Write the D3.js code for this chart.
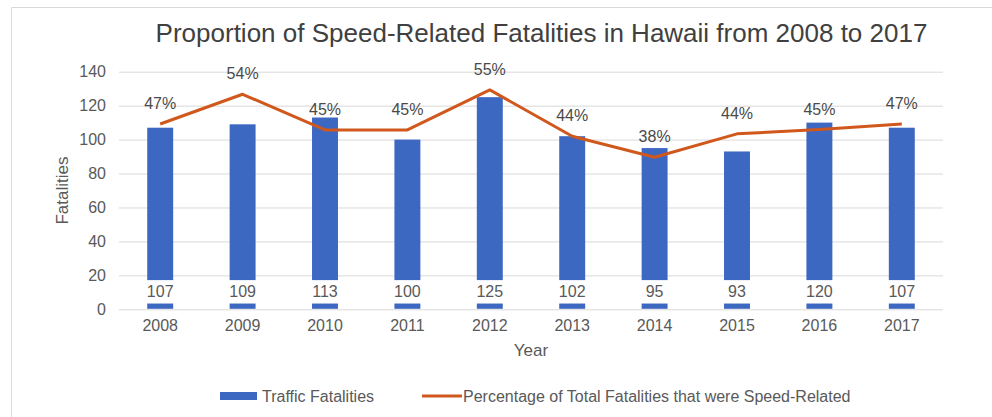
<!DOCTYPE html>
<html>
<head>
<meta charset="utf-8">
<script src="https://cdn.jsdelivr.net/npm/d3@7"></script>
<style>
  html, body { margin: 0; padding: 0; background: #ffffff; }
  svg { display: block; font-family: "Liberation Sans", Arial, sans-serif; }
</style>
</head>
<body>
<svg id="chart" width="992" height="417"></svg>
<script>
const years = ["2008","2009","2010","2011","2012","2013","2014","2015","2016","2017"];
// bar heights as drawn in the picture
const fatalities = [107, 109, 113, 100, 125, 102, 95, 93, 110, 107];
// value labels as printed in the picture
const fatalityLabels = ["107", "109", "113", "100", "125", "102", "95", "93", "120", "107"];
const speedShare = [0.468, 0.543, 0.453, 0.453, 0.554, 0.437, 0.384, 0.443, 0.454, 0.468];
const yTicks = [0, 20, 40, 60, 80, 100, 120, 140];
const titleText = "Proportion of Speed-Related Fatalities in Hawaii from 2008 to 2017";
const seriesNames = ["Traffic Fatalities", "Percentage of Total Fatalities that were Speed-Related"];

const W = 992, H = 417;
const plot = { left: 119, right: 943, top: 71.7, bottom: 309.3 };
const barColor = "#3d68c2";
const lineColor = "#d0581c";
const gridColor = "#d9d9d9";
const tickColor = "#595959";

const svg = d3.select("#chart");

// chart border (top and left visible)
svg.append("line").attr("x1", 11.5).attr("x2", W).attr("y1", 7.5).attr("y2", 7.5)
  .attr("stroke", "#d9d9d9").attr("stroke-width", 1);
svg.append("line").attr("x1", 11.5).attr("x2", 11.5).attr("y1", 7.5).attr("y2", H)
  .attr("stroke", "#d9d9d9").attr("stroke-width", 1);

const x = d3.scaleBand().domain(years).range([plot.left, plot.right])
  .paddingInner(0.685).paddingOuter(0.3425);
const y = d3.scaleLinear().domain([0, 140]).range([plot.bottom, plot.top]);
const y2 = d3.scaleLinear().domain([0, 0.6]).range([plot.bottom, plot.top]);

// gridlines + y tick labels
const yAxis = d3.axisLeft(y).tickValues(yTicks).tickSize(-(plot.right - plot.left)).tickPadding(13);
const gy = svg.append("g").attr("transform", `translate(${plot.left},0)`).call(yAxis);
gy.select(".domain").remove();
gy.selectAll(".tick line").attr("stroke", gridColor).attr("stroke-width", 1);
gy.selectAll(".tick text").attr("fill", tickColor).attr("font-size", 16)
  .attr("font-family", "Liberation Sans, Arial, sans-serif");

// x tick labels
const xAxis = d3.axisBottom(x).tickSize(0).tickPadding(10);
const gx = svg.append("g").attr("transform", `translate(0,${plot.bottom})`).call(xAxis);
gx.select(".domain").remove();
gx.selectAll(".tick text").attr("fill", tickColor).attr("font-size", 16)
  .attr("font-family", "Liberation Sans, Arial, sans-serif");

// bars
svg.append("g").selectAll("rect").data(fatalities).join("rect")
  .attr("x", (d, i) => x(years[i]))
  .attr("width", x.bandwidth())
  .attr("y", d => y(d))
  .attr("height", d => y(0) - y(d) - 0.5)
  .attr("fill", barColor);

// bar value labels with white background boxes
const lblG = svg.append("g");
fatalityLabels.forEach((d, i) => {
  const cx = x(years[i]) + x.bandwidth() / 2;
  lblG.append("rect")
    .attr("x", x(years[i]) - 1).attr("width", x.bandwidth() + 2)
    .attr("y", y(17.2)).attr("height", y(3.4) - y(17.2))
    .attr("fill", "#ffffff");
  lblG.append("text")
    .attr("x", cx).attr("y", y(10.3)).attr("dy", "0.35em")
    .attr("text-anchor", "middle").attr("font-size", 16).attr("fill", tickColor)
    .text(d);
});

// percentage line
const line = d3.line()
  .x((d, i) => x(years[i]) + x.bandwidth() / 2)
  .y(d => y2(d));
svg.append("path").datum(speedShare)
  .attr("d", line).attr("fill", "none")
  .attr("stroke", lineColor).attr("stroke-width", 3)
  .attr("stroke-linejoin", "round");

// percentage labels
const pctFmt = d3.format(".0%");
svg.append("g").selectAll("text").data(speedShare).join("text")
  .attr("x", (d, i) => x(years[i]) + x.bandwidth() / 2)
  .attr("y", d => y2(d) - 20.5).attr("dy", "0.35em")
  .attr("text-anchor", "middle").attr("font-size", 16).attr("fill", "#4a4a4a")
  .text(d => pctFmt(d));

// title
svg.append("text").attr("x", 541.5).attr("y", 42)
  .attr("text-anchor", "middle").attr("font-size", 26).attr("fill", "#404040")
  .text(titleText);

// axis titles
svg.append("text").attr("transform", `translate(68,${(plot.top + plot.bottom) / 2}) rotate(-90)`)
  .attr("text-anchor", "middle").attr("font-size", 17).attr("fill", tickColor)
  .text("Fatalities");
svg.append("text").attr("x", 531).attr("y", 356)
  .attr("text-anchor", "middle").attr("font-size", 17).attr("fill", tickColor)
  .text("Year");

// legend
const lg = svg.append("g");
lg.append("rect").attr("x", 220).attr("y", 392).attr("width", 37).attr("height", 8).attr("fill", barColor);
lg.append("text").attr("x", 262).attr("y", 396).attr("dy", "0.35em")
  .attr("font-size", 16).attr("fill", tickColor).text(seriesNames[0]);
lg.append("line").attr("x1", 422).attr("x2", 462).attr("y1", 396).attr("y2", 396)
  .attr("stroke", lineColor).attr("stroke-width", 3);
lg.append("text").attr("x", 463).attr("y", 396).attr("dy", "0.35em")
  .attr("font-size", 16).attr("fill", tickColor).text(seriesNames[1]);
</script>
</body>
</html>
